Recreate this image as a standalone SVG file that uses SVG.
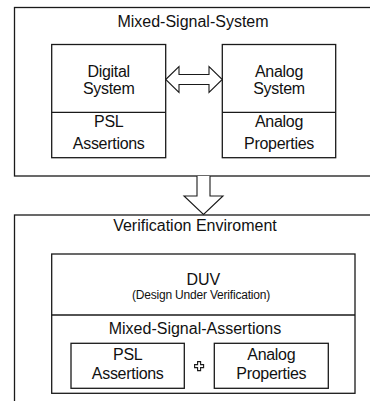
<svg xmlns="http://www.w3.org/2000/svg" width="370" height="401" viewBox="0 0 370 401">
  <style>
    .box { fill: #ffffff; stroke: #1a1a1a; stroke-width: 1.3; }
    .line { fill: none; stroke: #1a1a1a; stroke-width: 1.3; }
    .arrow { fill: #ffffff; stroke: #1a1a1a; stroke-width: 1.1; stroke-linejoin: miter; }
    text { font-family: "Liberation Sans", Arial, sans-serif; fill: #111111; text-anchor: middle; }
    .t16 { font-size: 16px; }
    .t15 { font-size: 16px; letter-spacing: -0.3px; }
    .small { font-size: 12px; letter-spacing: -0.2px; }
  </style>
  <rect width="370" height="401" fill="#ffffff"/>

  <!-- Mixed-signal system container -->
  <g id="mixed-signal-system">
    <rect class="box" x="14.5" y="7.5" width="370" height="168.5"/>
    <text class="t16" x="193" y="27">Mixed-Signal-System</text>
  </g>

  <g id="digital-system">
    <rect class="box" x="51.7" y="44.5" width="114" height="113.2"/>
    <line class="line" x1="51.7" y1="112.3" x2="165.7" y2="112.3"/>
    <text class="t15" x="108.7" y="77">Digital</text>
    <text class="t15" x="108.7" y="94">System</text>
    <text class="t15" x="108.7" y="127">PSL</text>
    <text class="t15" x="108.7" y="149">Assertions</text>
  </g>

  <g id="analog-system">
    <rect class="box" x="222.3" y="44.5" width="113.4" height="113.2"/>
    <line class="line" x1="222.3" y1="112.3" x2="335.7" y2="112.3"/>
    <text class="t15" x="279" y="77">Analog</text>
    <text class="t15" x="279" y="94">System</text>
    <text class="t15" x="279" y="127">Analog</text>
    <text class="t15" x="279" y="149">Properties</text>
  </g>

  <!-- Verification environment container -->
  <g id="verification-environment">
    <rect class="box" x="14.5" y="215" width="370" height="200"/>
    <text class="t16" x="195" y="230.5">Verification Enviroment</text>
  </g>

  <g id="duv">
    <rect class="box" x="51.7" y="254" width="303.3" height="139.3"/>
    <line class="line" x1="51.7" y1="315" x2="355" y2="315"/>
    <text class="t16" x="203.3" y="285">DUV</text>
    <text class="small" x="201" y="299">(Design Under Verification)</text>
    <text class="t16" x="195" y="334">Mixed-Signal-Assertions</text>
  </g>

  <g id="psl-assertions">
    <rect class="box" x="71" y="343.3" width="113.3" height="45"/>
    <text class="t15" x="127.7" y="360">PSL</text>
    <text class="t15" x="127.7" y="379">Assertions</text>
  </g>

  <g id="analog-properties">
    <rect class="box" x="214.3" y="343.3" width="114" height="45"/>
    <text class="t15" x="271.3" y="360">Analog</text>
    <text class="t15" x="271.3" y="379">Properties</text>
  </g>

  <!-- Connectors -->
  <g id="connectors">
    <path class="arrow" d="M165.7,79.5 L179,66.5 L179,74.5 L209,74.5 L209,66.5 L222.3,79.5 L209,92.5 L209,84.5 L179,84.5 L179,92.5 Z"/>
    <path class="arrow" d="M197,176 L197,196 L184,196 L203.5,214.5 L223,196 L210,196 L210,176"/>
    <path class="arrow" d="M197.6,361.6 h3 v3 h3 v3 h-3 v3 h-3 v-3 h-3 v-3 h3 Z" stroke-width="0.9"/>
  </g>
</svg>
